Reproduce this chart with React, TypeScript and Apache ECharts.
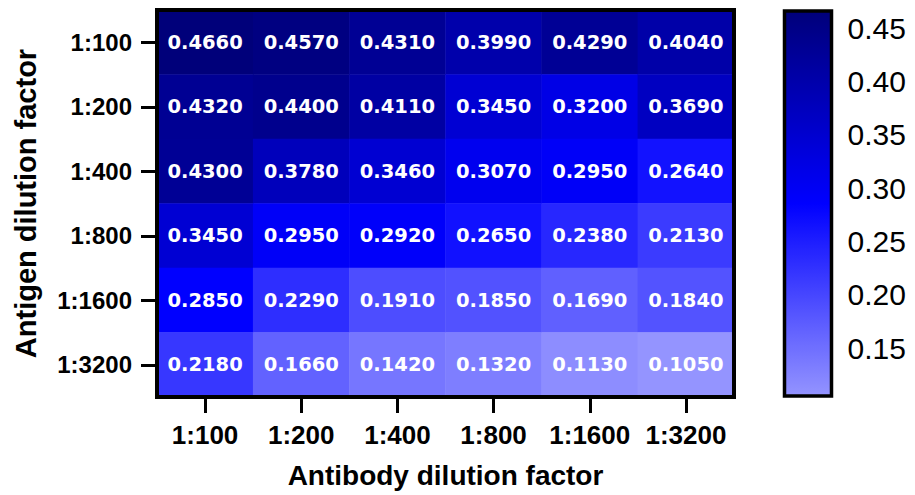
import React, { useEffect, useRef } from "react";
import * as echarts from "echarts";

const antibodyLabels = ["1:100", "1:200", "1:400", "1:800", "1:1600", "1:3200"];
const antigenLabels = ["1:100", "1:200", "1:400", "1:800", "1:1600", "1:3200"];

const row100 = [0.466, 0.457, 0.431, 0.399, 0.429, 0.404];
const row200 = [0.432, 0.44, 0.411, 0.345, 0.32, 0.369];
const row400 = [0.43, 0.378, 0.346, 0.307, 0.295, 0.264];
const row800 = [0.345, 0.295, 0.292, 0.265, 0.238, 0.213];
const row1600 = [0.285, 0.229, 0.191, 0.185, 0.169, 0.184];
const row3200 = [0.218, 0.166, 0.142, 0.132, 0.113, 0.105];
const rows = [row100, row200, row400, row800, row1600, row3200];

const colorTicks = [0.15, 0.2, 0.25, 0.3, 0.35, 0.4, 0.45];
const scaleMin = 0.105;
const scaleMax = 0.466;

const SANS = "Liberation Sans, Arial, Helvetica, sans-serif";
const WIDE = "DejaVu Sans, Verdana, sans-serif";

export default function App() {
  const ref = useRef<HTMLDivElement>(null);
  useEffect(() => {
    document.body.style.margin = "0";
    if (!ref.current) return;
    const chart = echarts.init(ref.current, null, { renderer: "svg" });
    const data: [number, number, number][] = [];
    rows.forEach((r, yi) => r.forEach((v, xi) => data.push([xi, yi, v])));
    chart.setOption({
      animation: false,
      backgroundColor: "#ffffff",
      grid: [
        {
          left: 157,
          top: 10,
          width: 577,
          height: 387,
          show: true,
          borderColor: "#000",
          borderWidth: 4,
          backgroundColor: "transparent",
          z: 10,
        },
        {
          left: 784.5,
          top: 11,
          width: 47,
          height: 385,
          show: true,
          borderColor: "#000",
          borderWidth: 3.5,
          backgroundColor: "transparent",
          z: 10,
        },
      ],
      xAxis: [
        {
          type: "category",
          gridIndex: 0,
          data: antibodyLabels,
          position: "bottom",
          axisLine: { show: false },
          axisTick: { show: true, alignWithLabel: true, interval: 0, length: 16, lineStyle: { color: "#000", width: 3 } },
          axisLabel: { interval: 0, color: "#000", fontFamily: SANS, fontWeight: "bold", fontSize: 26, margin: 25 },
          splitLine: { show: false },
          name: "Antibody dilution factor",
          nameLocation: "middle",
          nameGap: 64,
          nameTextStyle: { color: "#000", fontFamily: SANS, fontWeight: "bold", fontSize: 28 },
        },
        { type: "value", gridIndex: 1, show: false, min: 0, max: 1 },
      ],
      yAxis: [
        {
          type: "category",
          gridIndex: 0,
          data: antigenLabels,
          inverse: true,
          axisLine: { show: false },
          axisTick: { show: true, alignWithLabel: true, interval: 0, length: 16, lineStyle: { color: "#000", width: 3 } },
          axisLabel: { interval: 0, color: "#000", fontFamily: SANS, fontWeight: "bold", fontSize: 24, margin: 25 },
          splitLine: { show: false },
          name: "Antigen dilution factor",
          nameLocation: "middle",
          nameGap: 117,
          nameTextStyle: { color: "#000", fontFamily: SANS, fontWeight: "bold", fontSize: 29 },
        },
        {
          type: "value",
          gridIndex: 1,
          position: "left",
          min: scaleMin,
          max: scaleMax,
          axisLine: { show: false },
          axisTick: { show: true, inside: true, length: 7, customValues: colorTicks, lineStyle: { color: "#000", width: 3 } },
          axisLabel: { show: false },
          splitLine: { show: false },
        },
        {
          type: "value",
          gridIndex: 1,
          position: "right",
          min: scaleMin,
          max: scaleMax,
          axisLine: { show: false },
          axisTick: { show: true, inside: true, length: 7, customValues: colorTicks, lineStyle: { color: "#000", width: 3 } },
          axisLabel: {
            show: true,
            customValues: colorTicks,
            formatter: (v: number) => v.toFixed(2),
            color: "#000",
            fontFamily: SANS,
            fontSize: 30,
            margin: 16,
          },
          splitLine: { show: false },
        },
      ],
      visualMap: {
        type: "continuous",
        seriesIndex: 0,
        min: scaleMin,
        max: scaleMax,
        calculable: false,
        show: true,
        left: 784.5,
        top: 11,
        itemWidth: 47,
        itemHeight: 385,
        padding: 0,
        text: ["", ""],
        textGap: 0,
        orient: "vertical",
        inRange: { color: ["#9494ff", "#0000ff", "#00007a"] },
      },
      series: [
        {
          type: "heatmap",
          xAxisIndex: 0,
          yAxisIndex: 0,
          data,
          label: {
            show: true,
            color: "#fff",
            fontFamily: WIDE,
            fontWeight: "bold",
            fontSize: 19.5,
            formatter: (p: any) => (p.value[2] as number).toFixed(4),
          },
          itemStyle: { borderWidth: 0 },
          emphasis: { disabled: true },
        },
      ],
    });
    return () => chart.dispose();
  }, []);
  return <div ref={ref} style={{ width: 915, height: 495 }} />;
}
